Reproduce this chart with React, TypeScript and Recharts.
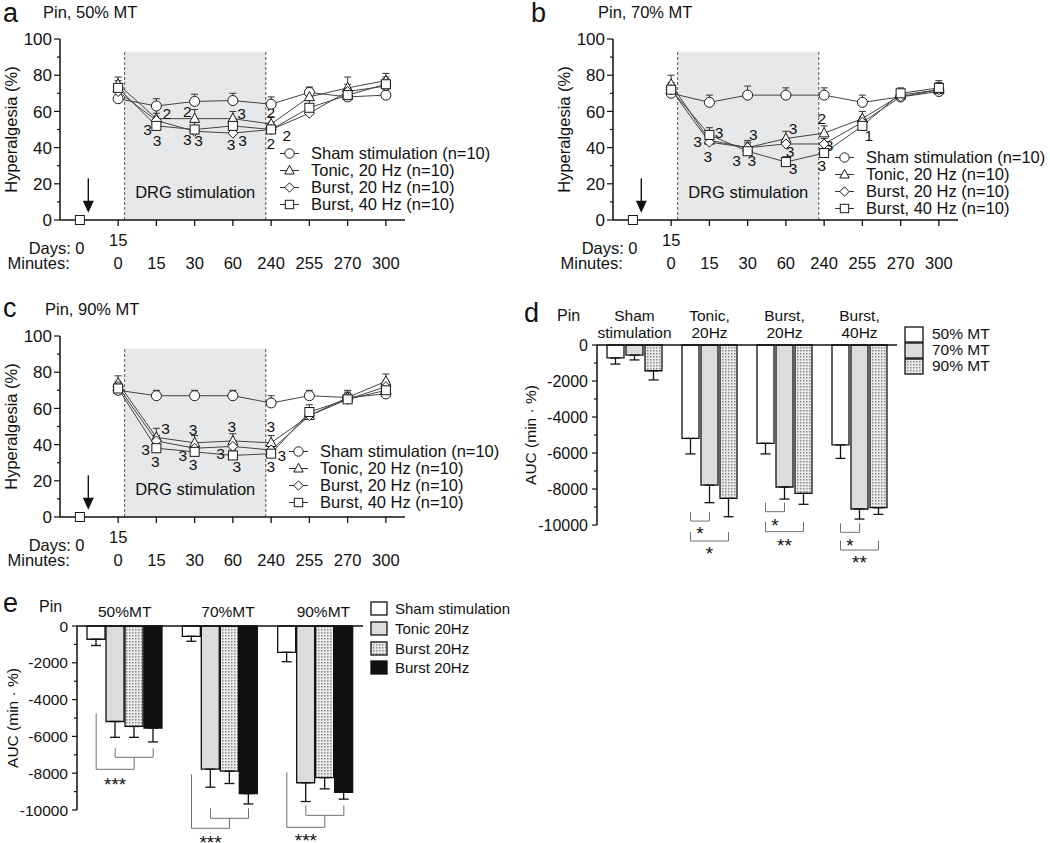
import React from 'react';
import {
  ComposedChart, BarChart, Bar, Line, Scatter, XAxis, YAxis, ErrorBar,
  ReferenceArea, ReferenceLine, ReferenceDot, Legend,
} from 'recharts';

const FONT = '"Liberation Sans", Arial, Helvetica, sans-serif';
const INK = '#111';

// ---------- time course panels a, b, c ----------
// x index: 0 = day 0 baseline, 1 = day 15 / 0 min, 2..8 = 15..300 min
const steps = [1, 2, 3, 4, 5, 6, 7, 8];
const dayLabels = ['0', '15'];
const minuteLabels = ['', '0', '15', '30', '60', '240', '255', '270', '300'];
const stimWindow = [1.17, 4.86];
const stimTop = 93;

const sham50 = [67, 63, 65.5, 66, 64, 70.5, 68, 69];
const tonic50 = [75, 56, 56, 56, 53, 68, 73, 77];
const burst20_50 = [71, 55, 49, 48, 50, 59, 71, 74];
const burst40_50 = [73, 52, 50, 52, 50, 62, 69, 75];
const err50 = [
  [4, 4, 4, 4, 4, 3, 3, 3],
  [4, 5, 5, 4, 4, 5, 6, 4],
  [3, 4, 3, 3, 3, 4, 4, 4],
  [4, 4, 4, 4, 4, 4, 4, 4],
];

const sham70 = [70, 65, 69, 69, 69, 65, 68, 71];
const tonic70 = [75, 44, 40, 45, 48, 56, 69, 72];
const burst20_70 = [72, 43, 40, 42, 42, 54, 68, 72];
const burst40_70 = [72, 47, 38, 32, 37, 52, 70, 73];
const err70 = [
  [4, 4, 5, 4, 4, 4, 3, 3],
  [5, 4, 4, 4, 4, 4, 3, 4],
  [3, 3, 3, 3, 3, 3, 3, 3],
  [4, 4, 4, 3, 4, 4, 3, 4],
];

const sham90 = [70, 67, 67, 67, 63, 67, 66, 68];
const tonic90 = [74, 44, 41, 42, 41, 56, 66, 75];
const burst20_90 = [72, 42, 38, 39, 37, 56, 65, 72];
const burst40_90 = [71, 38, 36, 34, 35, 58, 65, 70];
const err90 = [
  [4, 3, 3, 3, 4, 3, 3, 3],
  [4, 5, 4, 4, 4, 4, 4, 4],
  [3, 3, 3, 3, 3, 3, 3, 3],
  [3, 3, 3, 3, 3, 4, 3, 3],
];

// significance digits: [x, y, label]
const notesA = [
  [2.27, 59, '2'], [1.77, 50, '3'], [2.02, 44, '3'],
  [2.81, 60, '2'], [2.81, 44.5, '3'], [3.1, 44, '3'],
  [4.23, 59, '3'], [3.95, 42, '3'], [4.25, 44, '3'],
  [4.99, 59.5, '2'], [4.99, 42.5, '2'], [5.41, 47, '2'],
];
const notesB = [
  [2.25, 48.5, '3'], [1.69, 43.3, '3'], [1.96, 35, '3'],
  [3.15, 47.5, '3'], [2.71, 33, '3'], [3.11, 33, '3'],
  [4.19, 50.7, '3'], [4.11, 37.7, '3'], [4.19, 28.6, '3'],
  [4.94, 56.2, '2'], [5.13, 41, '3'], [4.94, 30.4, '3'],
  [6.17, 46.6, '1'],
];
const notesC = [
  [2.24, 49, '3'], [1.72, 37.3, '3'], [1.97, 30.6, '3'],
  [2.96, 48.5, '3'], [2.69, 34, '3'], [2.96, 29.3, '3'],
  [3.97, 50, '3'], [3.68, 35, '3'], [4.1, 28, '3'],
  [4.99, 50, '3'], [5.28, 34, '3'], [4.99, 28, '3'],
];

const SERIES = [
  { key: 'sham', name: 'Sham stimulation (n=10)', shape: 'circle' },
  { key: 'tonic', name: 'Tonic, 20 Hz (n=10)', shape: 'triangle' },
  { key: 'b20', name: 'Burst, 20 Hz (n=10)', shape: 'diamond' },
  { key: 'b40', name: 'Burst, 40 Hz (n=10)', shape: 'square' },
];

// ---------- AUC panels d, e ----------
const groupTop = ['Sham', 'Tonic,', 'Burst,', 'Burst,'];
const groupBottom = ['stimulation', '20Hz', '20Hz', '40Hz'];
const auc50 = [-720, -5190, -5460, -5550];
const auc70 = [-560, -7780, -7890, -9110];
const auc90 = [-1430, -8520, -8240, -9040];
const auc50Err = [340, 860, 590, 750];
const auc70Err = [270, 980, 670, 560];
const auc90Err = [510, 1020, 610, 370];
const mtNames = ['50% MT', '70% MT', '90% MT'];
const mtGroups = ['50%MT', '70%MT', '90%MT'];
const stimNames = ['Sham stimulation', 'Tonic 20Hz', 'Burst 20Hz', 'Burst 20Hz'];
const aucTicks = [-10000, -9000, -8000, -7000, -6000, -5000, -4000, -3000, -2000, -1000, 0];

// d brackets: group, bar from/to, level, end top, stars, star centre
const dBrackets = [
  { g: 1, a: 0, b: 1, y: -9780, top: -9280, star: '*', sy: -10280 },
  { g: 1, a: 0, b: 2, y: -10890, top: -10390, star: '*', sy: -11390 },
  { g: 2, a: 0, b: 1, y: -9260, top: -8760, star: '*', sy: -9815 },
  { g: 2, a: 0, b: 2, y: -10370, top: -9815, star: '**', sy: -10925 },
  { g: 3, a: 0, b: 1, y: -10407, top: -9907, star: '*', sy: -10925 },
  { g: 3, a: 0, b: 2, y: -11389, top: -10870, star: '**', sy: -11890 },
];
// e brackets: sham vs the three active groups
const eBrackets = [
  { g: 0, outerTop: -4745, outerY: -7788, innerY: -7136, innerTop: -6647, sy: -8386 },
  { g: 1, outerTop: -8060, outerY: -10995, innerY: -10452, innerTop: -9908, sy: -11538 },
  { g: 2, outerTop: -7951, outerY: -10941, innerY: -10289, innerTop: -9745, sy: -11430 },
];

function Marker({ shape, cx, cy, s = 5 }: any) {
  const st = { fill: '#fff', stroke: '#1a1a1a', strokeWidth: 1 };
  if (shape === 'circle') return <circle cx={cx} cy={cy} r={s} {...st} />;
  if (shape === 'triangle')
    return <polygon points={`${cx},${cy - s - 0.5} ${cx - s},${cy + s * 0.75} ${cx + s},${cy + s * 0.75}`} {...st} />;
  if (shape === 'diamond')
    return <polygon points={`${cx},${cy - s} ${cx + s},${cy} ${cx},${cy + s} ${cx - s},${cy}`} {...st} />;
  return <rect x={cx - s + 0.5} y={cy - s + 0.5} width={2 * s - 1} height={2 * s - 1} {...st} />;
}

const TimeTick = (p: any) => {
  const { x, y } = p;
  const v = p.payload.value;
  return (
    <g fontFamily={FONT} fontSize={16.5} fill={INK}>
      {v >= 1 && <line x1={x} x2={x} y1={y} y2={y + 6} stroke={INK} strokeWidth={1.3} />}
      {v === 0 && <text x={x - 9} y={y + 34} textAnchor="end">Days:</text>}
      {v === 0 && <text x={x - 10} y={y + 49} textAnchor="end">Minutes:</text>}
      {v < dayLabels.length && (
        <text x={x} y={y + (v === 0 ? 34 : 26)} textAnchor="middle">{dayLabels[v]}</text>
      )}
      {minuteLabels[v] && <text x={x} y={y + 49} textAnchor="middle">{minuteLabels[v]}</text>}
    </g>
  );
};

const valueTick = (every: number, fs: number, major: number, minor: number, gap: number) => (p: any) => {
  const v = p.payload.value;
  const isMajor = v % every === 0;
  return (
    <g>
      <line x1={p.x - (isMajor ? major : minor)} x2={p.x} y1={p.y} y2={p.y} stroke={INK} strokeWidth={1.2} />
      {isMajor && (
        <text x={p.x - gap} y={p.y} dy="0.36em" textAnchor="end" fontSize={fs} fontFamily={FONT} fill={INK}>{v}</text>
      )}
    </g>
  );
};

const Arrow = (p: any) => {
  const top = Math.min(p.y1, p.y2);
  const tip = Math.max(p.y1, p.y2);
  const x = p.x1;
  return (
    <g>
      <line x1={x} x2={x} y1={top} y2={tip - 11} stroke={INK} strokeWidth={1.4} />
      <polygon points={`${x - 5.5},${tip - 12} ${x + 5.5},${tip - 12} ${x},${tip}`} fill={INK} />
    </g>
  );
};

const LineLegend = () => (
  <div style={{ fontFamily: FONT, fontSize: 16.5, color: INK, whiteSpace: 'nowrap' }}>
    {SERIES.map((s) => (
      <div key={s.key} style={{ display: 'flex', alignItems: 'center', height: 17 }}>
        <svg width={19} height={17} style={{ display: 'block' }}>
          <line x1={0} x2={19} y1={8.5} y2={8.5} stroke="#333" strokeWidth={1} />
          <Marker shape={s.shape} cx={9.5} cy={8.5} s={4.7} />
        </svg>
        <span style={{ marginLeft: 12 }}>{s.name}</span>
      </div>
    ))}
  </div>
);

function TimeCourse({ left, top, width, values, errors, notes, legendPos }: any) {
  const rows = steps.map((x, i) => {
    const r: any = { x };
    SERIES.forEach((s, k) => {
      r[s.key] = values[k][i];
      r[s.key + 'E'] = [0, errors[k][i]];
    });
    return r;
  });
  const noteData = notes.map(([x, y, t]: any) => ({ x, y, t }));
  return (
    <div style={{ position: 'absolute', left, top }}>
      <ComposedChart width={width} height={280} data={rows} margin={{ top: 39, right: width - 405, bottom: 5, left: 0 }}>
        <ReferenceArea x1={stimWindow[0]} x2={stimWindow[1]} y1={0} y2={stimTop} fill="#e7e8e9" fillOpacity={1} stroke="none"
          label={{ value: 'DRG stimulation', position: 'insideBottom', offset: 22, fill: INK, fontSize: 16.5, fontFamily: FONT }} />
        {stimWindow.map((sx) => (
          <ReferenceLine key={sx} segment={[{ x: sx, y: 0 }, { x: sx, y: stimTop }]} stroke="#444" strokeWidth={0.9} strokeDasharray="3 2" />
        ))}
        <ReferenceLine segment={[{ x: 0.22, y: 23 }, { x: 0.22, y: 4 }]} shape={Arrow} />
        <XAxis type="number" dataKey="x" domain={[-0.52, 8.5]} ticks={[0, 1, 2, 3, 4, 5, 6, 7, 8]} interval={0}
          height={55} tickSize={0} tickMargin={0} tickLine={false} axisLine={{ stroke: INK, strokeWidth: 1.5 }}
          tick={(p: any) => <TimeTick {...p} />} />
        <YAxis domain={[0, 100]} ticks={[0, 10, 20, 30, 40, 50, 60, 70, 80, 90, 100]} interval={0} width={60}
          tickSize={0} tickMargin={0} tickLine={false} axisLine={{ stroke: INK, strokeWidth: 1.5 }}
          tick={valueTick(20, 17, 6, 3, 8)}
          label={{ value: 'Hyperalgesia (%)', angle: -90, position: 'insideLeft', offset: 11, fill: INK, fontSize: 16.5, fontFamily: FONT, style: { textAnchor: 'middle' } }} />
        {SERIES.map((s) => (
          <Line key={s.key} dataKey={s.key} name={s.name} stroke="#444" strokeWidth={1} isAnimationActive={false}
            dot={(d: any) => <Marker key={`${s.key}-${d.index}`} shape={s.shape} cx={d.cx} cy={d.cy} />} activeDot={false}>
            <ErrorBar dataKey={s.key + 'E'} width={3.5} stroke="#333" strokeWidth={1} direction="y" />
          </Line>
        ))}
        <Scatter data={[{ x: 0, y: 0 }]} dataKey="y" isAnimationActive={false} legendType="none"
          shape={(p: any) => <Marker shape="square" cx={p.cx} cy={p.cy} />} />
        <Scatter data={noteData} dataKey="y" isAnimationActive={false} legendType="none"
          shape={(p: any) => (
            <text x={p.cx} y={p.cy} dy="0.36em" textAnchor="middle" fontSize={15.5} fontFamily={FONT} fill={INK}>{p.payload.t}</text>
          )} />
        <Legend layout="vertical" align="center" verticalAlign="middle" wrapperStyle={{ left: legendPos[0], top: legendPos[1] }}
          content={() => <LineLegend />} />
      </ComposedChart>
    </div>
  );
}

function BoxLegend({ items, fills, boxW, boxH, rowH, gap, fontSize, pid }: any) {
  return (
    <div style={{ fontFamily: FONT, fontSize, color: INK, whiteSpace: 'nowrap' }}>
      {items.map((name: string, i: number) => (
        <div key={i} style={{ display: 'flex', alignItems: 'center', height: rowH }}>
          <svg width={boxW + 2} height={boxH + 2} style={{ display: 'block' }}>
            <defs>
              <pattern id={`${pid}-${i}`} width="3" height="3" patternUnits="userSpaceOnUse">
                <rect width="3" height="3" fill="#ebebeb" />
                <rect width="1.5" height="1.5" fill="#8a8a8a" />
              </pattern>
            </defs>
            <rect x={1} y={1} width={boxW} height={boxH} fill={fills[i] === 'stipple' ? `url(#${pid}-${i})` : fills[i]} stroke={INK} strokeWidth={1.3} />
          </svg>
          <span style={{ marginLeft: gap }}>{name}</span>
        </div>
      ))}
    </div>
  );
}

const Stipple = ({ id }: any) => (
  <defs>
    <pattern id={id} width="3" height="3" patternUnits="userSpaceOnUse">
      <rect width="3" height="3" fill="#ebebeb" />
      <rect width="1.5" height="1.5" fill="#8a8a8a" />
    </pattern>
  </defs>
);

const seg = (x1: number, y1: number, x2: number, y2: number, k: string) => (
  <ReferenceLine key={k} xAxisId="n" segment={[{ x: x1, y: y1 }, { x: x2, y: y2 }]} stroke="#707070" strokeWidth={1} ifOverflow="visible" />
);
const starDot = (x: number, y: number, t: string, k: string) => (
  <ReferenceDot key={k} xAxisId="n" x={x} y={y} ifOverflow="visible"
    shape={(p: any) => (
      <text x={p.cx} y={p.cy} dy="0.55em" textAnchor="middle" fontSize={19} fontFamily={FONT} fill={INK}>{t}</text>
    )} />
);

function PanelD() {
  const rows = groupTop.map((t, i) => ({
    name: `${t} ${groupBottom[i]}`,
    pos: i + 0.5,
    m50: auc50[i], m70: auc70[i], m90: auc90[i],
    m50E: [auc50Err[i], 0], m70E: [auc70Err[i], 0], m90E: [auc90Err[i], 0],
  }));
  const step = 19 / 75;
  const barX = (g: number, i: number) => g + 0.5 + (i - 1) * step;
  const fills = ['#fff', '#dcdcdc', 'url(#stippleD)'];
  return (
    <div style={{ position: 'absolute', left: 470, top: 275 }}>
      <BarChart width={580} height={300} data={rows} barSize={17} barGap={2} margin={{ top: 30, right: 153, bottom: 50, left: 40 }}>
        <Stipple id="stippleD" />
        <XAxis dataKey="name" orientation="top" height={40} tickSize={0} tickMargin={0} tickLine={false} interval={0}
          axisLine={{ stroke: INK, strokeWidth: 1.5 }}
          tick={(p: any) => (
            <g fontFamily={FONT} fontSize={15.5} fill={INK}>
              <text x={p.x} y={p.y - 24} textAnchor="middle">{groupTop[p.index]}</text>
              <text x={p.x} y={p.y - 7} textAnchor="middle">{groupBottom[p.index]}</text>
            </g>
          )} />
        <XAxis xAxisId="n" dataKey="pos" type="number" domain={[0, 4]} hide allowDataOverflow />
        <YAxis domain={[-10000, 0]} ticks={aucTicks} interval={0} width={87} tickSize={0} tickMargin={0} tickLine={false}
          axisLine={{ stroke: INK, strokeWidth: 1.5 }} tick={valueTick(2000, 16, 5, 3, 9)}
          label={{ value: 'AUC (min · %)', angle: -90, position: 'insideLeft', offset: 20, fill: INK, fontSize: 15.5, fontFamily: FONT, style: { textAnchor: 'middle' } }} />
        {['m50', 'm70', 'm90'].map((k, i) => (
          <Bar key={k} dataKey={k} name={mtNames[i]} fill={fills[i]} stroke={INK} strokeWidth={1.3} isAnimationActive={false}>
            <ErrorBar dataKey={k + 'E'} width={5} stroke={INK} strokeWidth={1.3} direction="y" />
          </Bar>
        ))}
        {dBrackets.map((b, i) => {
          const xa = barX(b.g, b.a);
          const xb = barX(b.g, b.b);
          return [
            seg(xa, b.top, xa, b.y, `d${i}a`),
            seg(xa, b.y, xb, b.y, `d${i}b`),
            seg(xb, b.y, xb, b.top, `d${i}c`),
            starDot((xa + xb) / 2, b.sy, b.star, `d${i}s`),
          ];
        })}
        <Legend layout="vertical" align="center" verticalAlign="middle" wrapperStyle={{ left: 434, top: 51 }}
          content={() => (
            <BoxLegend items={mtNames} fills={['#fff', '#dcdcdc', 'stipple']} boxW={18} boxH={15} rowH={16} gap={8} fontSize={15.5} pid="dleg" />
          )} />
      </BarChart>
    </div>
  );
}

function PanelE() {
  const src = [auc50, auc70, auc90];
  const errs = [auc50Err, auc70Err, auc90Err];
  const keys = ['sham', 'tonic', 'b20', 'b40'];
  const rows = mtGroups.map((m, j) => {
    const r: any = { name: m, pos: j + 0.5 };
    keys.forEach((k, i) => {
      r[k] = src[j][i];
      r[k + 'E'] = [errs[j][i], 0];
    });
    return r;
  });
  const labelShift = [0, 8, 8];
  const step = 19 / 95.33;
  const barX = (g: number, i: number) => g + 0.5 + (i - 1.5) * step;
  const fills = ['#fff', '#dcdcdc', 'url(#stippleE)', '#111'];
  return (
    <div style={{ position: 'absolute', left: 0, top: 575 }}>
      <BarChart width={620} height={268} data={rows} barSize={18} barGap={1} margin={{ top: 20, right: 257, bottom: 33, left: 0 }}>
        <Stipple id="stippleE" />
        <XAxis dataKey="name" orientation="top" height={31} tickSize={0} tickMargin={0} tickLine={false} interval={0}
          axisLine={{ stroke: INK, strokeWidth: 1.5 }}
          tick={(p: any) => (
            <text x={p.x + labelShift[p.index]} y={p.y - 9} textAnchor="middle" fontFamily={FONT} fontSize={15.5} fill={INK}>{mtGroups[p.index]}</text>
          )} />
        <XAxis xAxisId="n" dataKey="pos" type="number" domain={[0, 3]} hide allowDataOverflow />
        <YAxis domain={[-10000, 0]} ticks={aucTicks} interval={0} width={77} tickSize={0} tickMargin={0} tickLine={false}
          axisLine={{ stroke: INK, strokeWidth: 1.5 }} tick={valueTick(2000, 15.5, 5, 3, 9)}
          label={{ value: 'AUC (min · %)', angle: -90, position: 'insideLeft', offset: 12, fill: INK, fontSize: 15.5, fontFamily: FONT, style: { textAnchor: 'middle' } }} />
        {keys.map((k, i) => (
          <Bar key={k} dataKey={k} name={stimNames[i]} fill={fills[i]} stroke={INK} strokeWidth={1.3} isAnimationActive={false}>
            <ErrorBar dataKey={k + 'E'} width={5} stroke={INK} strokeWidth={1.3} direction="y" />
          </Bar>
        ))}
        {eBrackets.map((b, i) => {
          const xs = barX(b.g, 0);
          const xt = barX(b.g, 1);
          const x4 = barX(b.g, 3);
          const xm = (xt + x4) / 2;
          return [
            seg(xs, b.outerTop, xs, b.outerY, `e${i}a`),
            seg(xs, b.outerY, xm, b.outerY, `e${i}b`),
            seg(xm, b.outerY, xm, b.innerY, `e${i}c`),
            seg(xt, b.innerTop, xt, b.innerY, `e${i}d`),
            seg(xt, b.innerY, x4, b.innerY, `e${i}e`),
            seg(x4, b.innerY, x4, b.innerTop, `e${i}f`),
            starDot((xs + xm) / 2, b.sy, '***', `e${i}s`),
          ];
        })}
        <Legend layout="vertical" align="center" verticalAlign="middle" wrapperStyle={{ left: 370, top: 24 }}
          content={() => (
            <BoxLegend items={stimNames} fills={['#fff', '#dcdcdc', 'stipple', '#111']} boxW={16} boxH={13} rowH={19.7} gap={7} fontSize={15} pid="eleg" />
          )} />
      </BarChart>
    </div>
  );
}

export default function App() {
  return (
    <div style={{ position: 'absolute', left: 0, top: 0, width: 1050, height: 843, background: '#fff', overflow: 'hidden' }}>
      <TimeCourse left={0} top={0} width={545} values={[sham50, tonic50, burst20_50, burst40_50]} errors={err50} notes={notesA} legendPos={[280, 144.5]} />
      <TimeCourse left={553} top={0} width={497} values={[sham70, tonic70, burst20_70, burst40_70]} errors={err70} notes={notesB} legendPos={[282, 148.5]} />
      <TimeCourse left={0} top={297} width={545} values={[sham90, tonic90, burst20_90, burst40_90]} errors={err90} notes={notesC} legendPos={[289, 146]} />
      <PanelD />
      <PanelE />
      <svg width={1050} height={843} style={{ position: 'absolute', left: 0, top: 0, pointerEvents: 'none' }} fontFamily={FONT} fill={INK}>
        <text x={3} y={22} fontSize={27}>a</text>
        <text x={43} y={18} fontSize={16.5}>Pin, 50% MT</text>
        <text x={531} y={22} fontSize={27}>b</text>
        <text x={598} y={18} fontSize={16.5}>Pin, 70% MT</text>
        <text x={3} y={317} fontSize={27}>c</text>
        <text x={45} y={315} fontSize={16.5}>Pin, 90% MT</text>
        <text x={524} y={322} fontSize={27}>d</text>
        <text x={557} y={321} fontSize={16}>Pin</text>
        <text x={3} y={612} fontSize={27}>e</text>
        <text x={39} y={612} fontSize={16}>Pin</text>
      </svg>
    </div>
  );
}
